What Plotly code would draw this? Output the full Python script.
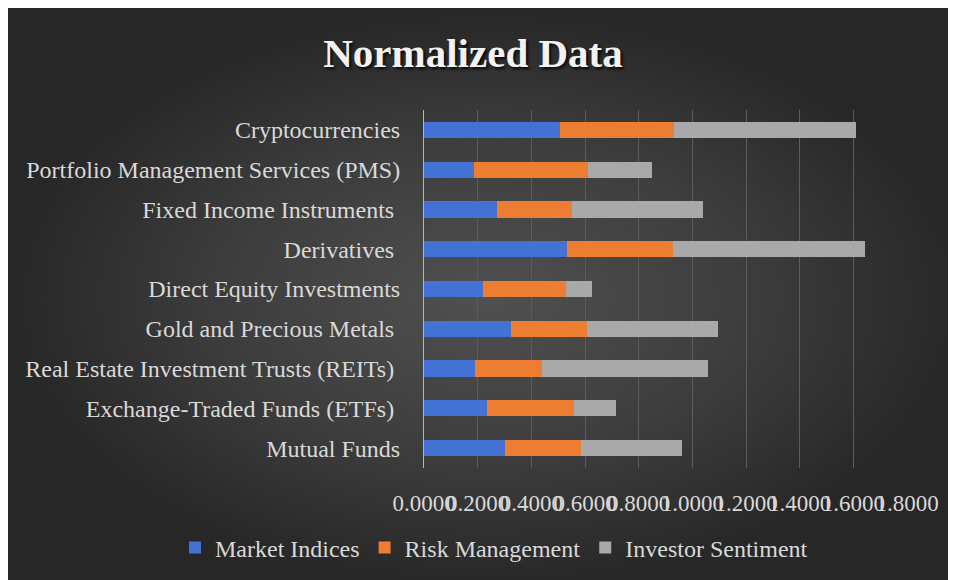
import plotly.graph_objects as go

# categories listed bottom to top, as drawn
categories = [
    "Mutual Funds",
    "Exchange-Traded Funds (ETFs)\u00a0",
    "Real Estate Investment Trusts (REITs)\u00a0",
    "Gold and Precious Metals\u00a0",
    "Direct Equity Investments",
    "Derivatives\u00a0",
    "Fixed Income Instruments\u00a0",
    "Portfolio Management Services (PMS)",
    "Cryptocurrencies",
]
market_indices = [0.300, 0.235, 0.191, 0.324, 0.220, 0.534, 0.272, 0.186, 0.506]
risk_management = [0.285, 0.324, 0.250, 0.284, 0.308, 0.395, 0.278, 0.426, 0.425]
investor_sentiment = [0.378, 0.156, 0.618, 0.489, 0.097, 0.713, 0.490, 0.238, 0.678]
tick_values = [0.0, 0.2, 0.4, 0.6, 0.8, 1.0, 1.2, 1.4, 1.6, 1.8]

FONT = "Liberation Serif"
TEXT = "#d9d9d9"
W, H = 956, 580
# the page body adds an 8px margin, so positions below are page pixels minus 8
OFF = 8

fig = go.Figure()

# dark radial-gradient backdrop on its own hidden axes (drawn below the bars)
fig.add_trace(
    go.Scatter(
        x=[0, 1, 1, 0, 0],
        y=[0, 0, 1, 1, 0],
        mode="lines",
        line=dict(width=0),
        fill="toself",
        fillgradient=dict(
            type="radial",
            colorscale=[[0, "#505050"], [0.55, "#3d3d3d"], [1, "#272727"]],
        ),
        hoverinfo="skip",
        showlegend=False,
        xaxis="x",
        yaxis="y",
    )
)

series = [
    ("Market Indices", market_indices, "#4472d4"),
    ("Risk Management", risk_management, "#ed7d31"),
    ("Investor Sentiment", investor_sentiment, "#a9a9a9"),
]
for name, vals, color in series:
    fig.add_trace(
        go.Bar(
            y=categories,
            x=vals,
            name=name,
            orientation="h",
            marker=dict(color=color, line=dict(width=0)),
            xaxis="x2",
            yaxis="y2",
        )
    )

fig.update_layout(
    width=W,
    height=H,
    margin=dict(l=0, r=0, t=0, b=0, autoexpand=False),
    paper_bgcolor="#272727",
    plot_bgcolor="rgba(0,0,0,0)",
    barmode="stack",
    bargap=0.59,
    font=dict(family=FONT, color=TEXT, size=23),
    title=dict(
        text="<b>Normalized Data</b>",
        x=(473 - OFF) / W,
        xanchor="center",
        y=1 - (53 - OFF) / H,
        yanchor="middle",
        font=dict(family=FONT, size=41, color="#f2f2f2",
                  shadow="2px 2px 3px rgba(0,0,0,0.85)"),
    ),
    xaxis=dict(domain=[0, 1], range=[0, 1], visible=False, fixedrange=True),
    yaxis=dict(domain=[0, 1], range=[0, 1], visible=False, fixedrange=True),
    xaxis2=dict(
        domain=[(424 - OFF) / W, (907 - OFF) / W],
        anchor="y2",
        range=[0, 1.8],
        tickvals=tick_values,
        tickformat=".4f",
        tickangle=0,
        showgrid=True,
        gridcolor="#5c5c5c",
        gridwidth=1,
        zeroline=False,
        showline=False,
        ticks="outside",
        ticklen=14,
        tickcolor="rgba(0,0,0,0)",
        tickfont=dict(family=FONT, size=23, color=TEXT),
    ),
    yaxis2=dict(
        domain=[1 - (468 - OFF) / H, 1 - (110 - OFF) / H],
        anchor="x2",
        showline=True,
        linecolor="#b5b5b5",
        linewidth=1,
        showgrid=False,
        ticks="outside",
        ticklen=18,
        tickcolor="rgba(0,0,0,0)",
        tickfont=dict(family=FONT, size=24, color=TEXT),
    ),
    legend=dict(
        orientation="h",
        traceorder="normal",
        x=(494 - OFF) / W,
        xanchor="center",
        y=1 - (548 - OFF) / H,
        yanchor="middle",
        bgcolor="rgba(0,0,0,0)",
        font=dict(family=FONT, size=24, color=TEXT),
        itemwidth=30,
    ),
)

fig.write_html("out.html")
